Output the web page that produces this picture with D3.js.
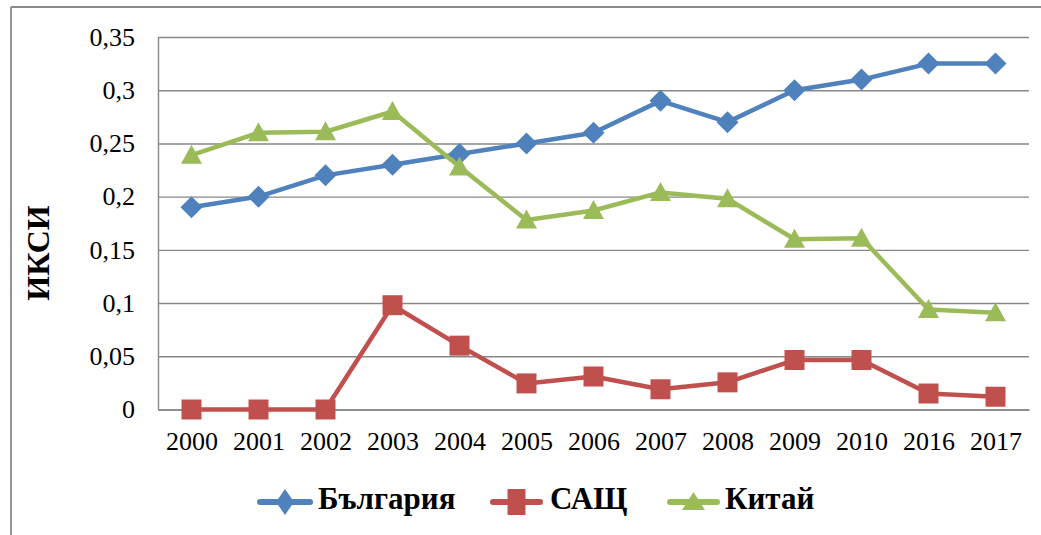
<!DOCTYPE html>
<html>
<head>
<meta charset="utf-8">
<script src="https://cdn.jsdelivr.net/npm/d3@7"></script>
<style>
  html, body { margin: 0; padding: 0; background: #fff; }
  svg { display: block; }
  svg text { font-family: "Liberation Serif", "Times New Roman", "DejaVu Serif", serif; }
</style>
</head>
<body>
<svg id="chart" width="1041" height="535"></svg>
<script>
// ---- data ----
const categories = ["2000","2001","2002","2003","2004","2005","2006","2007","2008","2009","2010","2016","2017"];
const bulgaria = [0.19, 0.20, 0.22, 0.23, 0.24, 0.25, 0.26, 0.29, 0.27, 0.30, 0.31, 0.325, 0.325];
const usa      = [0, 0, 0, 0.098, 0.060, 0.0245, 0.031, 0.019, 0.0255, 0.0465, 0.0465, 0.015, 0.012];
const china    = [0.239, 0.260, 0.261, 0.280, 0.228, 0.178, 0.187, 0.204, 0.198, 0.160, 0.161, 0.094, 0.091];
const seriesNames = ["България", "САЩ", "Китай"];
const yTickValues = [0, 0.05, 0.1, 0.15, 0.2, 0.25, 0.3, 0.35];
const yTickLabels = ["0", "0,05", "0,1", "0,15", "0,2", "0,25", "0,3", "0,35"];
const yTitle = "ИКСИ";

const series = [
  { name: seriesNames[0], values: bulgaria, color: "#4F81BD", marker: "diamond" },
  { name: seriesNames[1], values: usa,      color: "#C0504D", marker: "square" },
  { name: seriesNames[2], values: china,    color: "#9BBB59", marker: "triangle" }
];

const svg = d3.select("#chart");
const serif = '"Liberation Serif", "Times New Roman", "DejaVu Serif", serif';
const plot = { left: 158, right: 1029, top: 37, bottom: 409.5 };

const x = d3.scalePoint().domain(categories).range([plot.left, plot.right]).padding(0.5);
const y = d3.scaleLinear().domain([0, 0.35]).range([plot.bottom, plot.top]);

// outer frame (top and left edges visible)
svg.append("line").attr("x1", 11).attr("x2", 1041).attr("y1", 7).attr("y2", 7)
  .attr("stroke", "#8a8a8a").attr("stroke-width", 1.8);
svg.append("line").attr("x1", 11).attr("x2", 11).attr("y1", 7).attr("y2", 535)
  .attr("stroke", "#8a8a8a").attr("stroke-width", 1.8);

// gridlines
svg.append("g")
  .attr("transform", `translate(${plot.left},0)`)
  .call(d3.axisLeft(y).tickValues(yTickValues).tickSize(-(plot.right - plot.left)).tickFormat(""))
  .call(g => g.select(".domain").remove())
  .call(g => g.selectAll("line").attr("stroke", "#878787").attr("stroke-width", 1.4));

// y axis
const yAxis = svg.append("g")
  .attr("transform", `translate(${plot.left},0)`)
  .call(d3.axisLeft(y).tickValues(yTickValues).tickSize(0).tickPadding(23)
    .tickFormat((d, i) => yTickLabels[i]));
yAxis.attr("font-family", null);
yAxis.select(".domain").attr("stroke", "#878787").attr("stroke-width", 1.4);
yAxis.selectAll("text").style("font-family", serif).style("font-size", "26px").attr("fill", "#000");

// x axis
const xAxis = svg.append("g")
  .attr("transform", `translate(0,${plot.bottom})`)
  .call(d3.axisBottom(x).tickSize(0).tickPadding(22));
xAxis.attr("font-family", null);
xAxis.select(".domain").attr("stroke", "#878787").attr("stroke-width", 1.4);
xAxis.selectAll("text").style("font-family", serif).style("font-size", "26px").attr("fill", "#000");

// y title
svg.append("text")
  .attr("transform", "translate(49,253) rotate(-90)")
  .attr("text-anchor", "middle")
  .style("font-family", serif).style("font-weight", "bold").style("font-size", "32px")
  .attr("fill", "#000")
  .text(yTitle);

// marker paths
function markerPath(type, w, h) {
  if (type === "diamond") return `M0,${-h/2}L${w/2},0L0,${h/2}L${-w/2},0Z`;
  if (type === "square") return `M${-w/2},${-h/2}h${w}v${h}h${-w}Z`;
  return `M0,${-h*0.55}L${w/2},${h*0.45}L${-w/2},${h*0.45}Z`;
}
const markerSize = { diamond: [22, 22], square: [20, 20], triangle: [21, 19] };

const line = d3.line().x((d, i) => x(categories[i])).y(d => y(d));

series.forEach(s => {
  const g = svg.append("g");
  g.append("path").datum(s.values)
    .attr("d", line)
    .attr("fill", "none").attr("stroke", s.color).attr("stroke-width", 4.5)
    .attr("stroke-linejoin", "round");
  const [w, h] = markerSize[s.marker];
  g.selectAll("path.m").data(s.values).join("path")
    .attr("class", "m")
    .attr("transform", (d, i) => `translate(${x(categories[i])},${y(d)})`)
    .attr("d", markerPath(s.marker, w, h))
    .attr("fill", s.color);
});

// legend
const legendItems = [
  { lineX1: 257, lineX2: 313, textX: 318 },
  { lineX1: 490, lineX2: 543, textX: 550 },
  { lineX1: 667, lineX2: 720, textX: 725 }
];
const legendMarker = { diamond: [18, 26], square: [18, 26], triangle: [23, 18] };
const ly = 502;
const legend = svg.append("g");
series.forEach((s, i) => {
  const it = legendItems[i];
  legend.append("line")
    .attr("x1", it.lineX1 + 3).attr("x2", it.lineX2 - 3).attr("y1", ly).attr("y2", ly)
    .attr("stroke", s.color).attr("stroke-width", 6).attr("stroke-linecap", "round");
  const [w, h] = legendMarker[s.marker];
  legend.append("path")
    .attr("transform", `translate(${(it.lineX1 + it.lineX2) / 2},${ly})`)
    .attr("d", markerPath(s.marker, w, h))
    .attr("fill", s.color);
  legend.append("text")
    .attr("x", it.textX).attr("y", 509)
    .style("font-family", serif).style("font-weight", "bold").style("font-size", "31px")
    .attr("fill", "#000")
    .text(s.name);
});
</script>
</body>
</html>
